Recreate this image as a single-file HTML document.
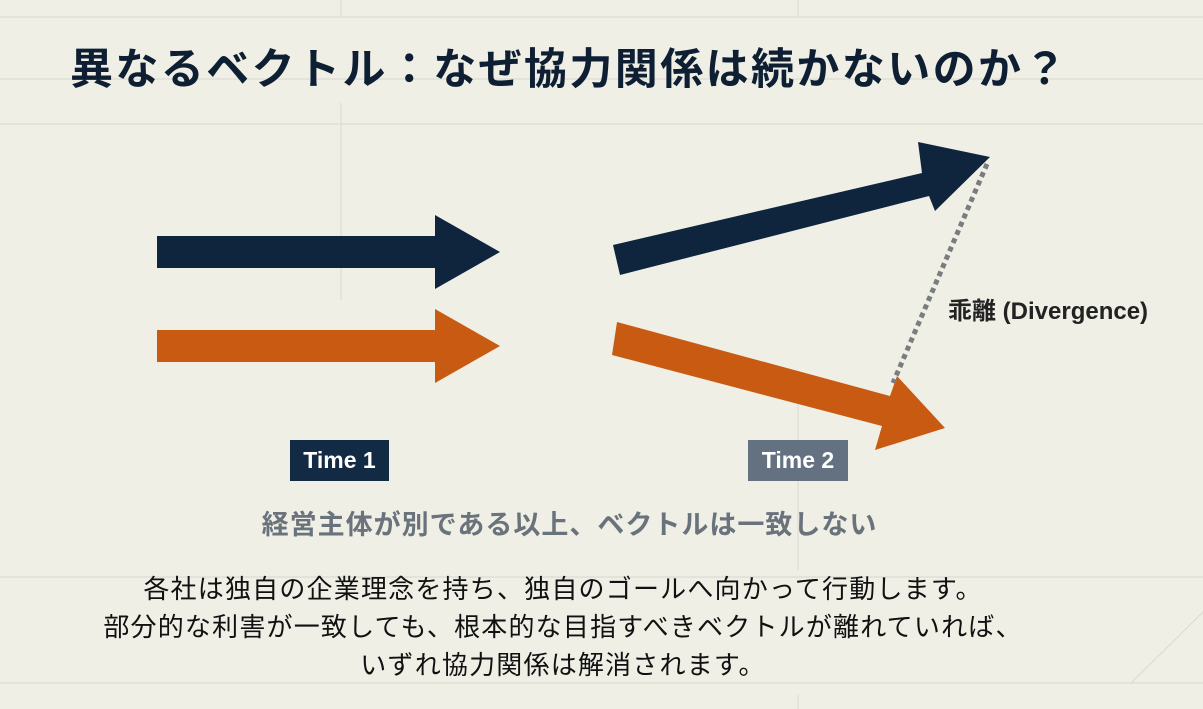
<!DOCTYPE html>
<html><head><meta charset="utf-8"><style>
html,body{margin:0;padding:0;}
body{width:1203px;height:709px;background:#efefe6;position:relative;overflow:hidden;font-family:"Liberation Sans","Noto Sans CJK JP",sans-serif;}
.t{position:absolute;white-space:nowrap;}
</style></head><body>
<svg width="1203" height="709" style="position:absolute;left:0;top:0">
<g stroke="#dcdcd4" stroke-width="1.2" fill="none">
<line x1="0" y1="17" x2="1203" y2="17"/>
<line x1="0" y1="79" x2="1203" y2="79"/>
<line x1="0" y1="124" x2="1203" y2="124"/>
<line x1="0" y1="577" x2="1203" y2="577"/>
<line x1="0" y1="683" x2="1203" y2="683"/>
<line x1="341" y1="0" x2="341" y2="17"/>
<line x1="341" y1="103" x2="341" y2="300"/>
<line x1="798" y1="0" x2="798" y2="17"/>
<line x1="798" y1="400" x2="798" y2="570"/>
<line x1="798" y1="695" x2="798" y2="709"/>
<line x1="1131" y1="683" x2="1203" y2="612"/>
</g>
<polygon points="157,236 435,236 435,215 500,252 435,289 435,268 157,268" fill="#0f243d"/>
<polygon points="157,330 435,330 435,309 500,346 435,383 435,362 157,362" fill="#c85a12"/>
<polygon points="613,245 922,173 918,142 990,157 935,211 929,196 620,275" fill="#0f243d"/>
<polygon points="617,322 890,396 897,376 945,428 875,450 882,426 612,355" fill="#c85a12"/>
<line x1="987" y1="164" x2="893" y2="383" stroke="#7a7d80" stroke-width="5" stroke-dasharray="5 4"/>
<rect x="290" y="440" width="99" height="41" fill="#132a44"/>
<rect x="748" y="440" width="100" height="41" fill="#637180"/>
</svg>
<div class="t" style="left:70px;top:35px;font-size:43px;letter-spacing:2.4px;font-weight:bold;color:#0f1f33;">異なるベクトル：なぜ協力関係は続かないのか？</div>
<div class="t" style="left:948px;top:291px;font-size:24px;font-weight:bold;color:#222;">乖離 (Divergence)</div>
<div class="t" style="left:290px;top:447px;width:99px;text-align:center;font-size:23px;font-weight:bold;color:#fff;">Time 1</div>
<div class="t" style="left:748px;top:447px;width:100px;text-align:center;font-size:23px;font-weight:bold;color:#fff;">Time 2</div>
<div class="t" style="left:0;top:503px;width:1139px;text-align:center;font-size:27px;letter-spacing:1px;font-weight:bold;color:#6a737c;">経営主体が別である以上、ベクトルは一致しない</div>
<div class="t" style="left:0;top:570px;width:1126px;text-align:center;font-size:26px;letter-spacing:1.2px;line-height:38px;color:#111;">各社は独自の企業理念を持ち、独自のゴールへ向かって行動します。<br>部分的な利害が一致しても、根本的な目指すべきベクトルが離れていれば、<br>いずれ協力関係は解消されます。</div>
</body></html>
